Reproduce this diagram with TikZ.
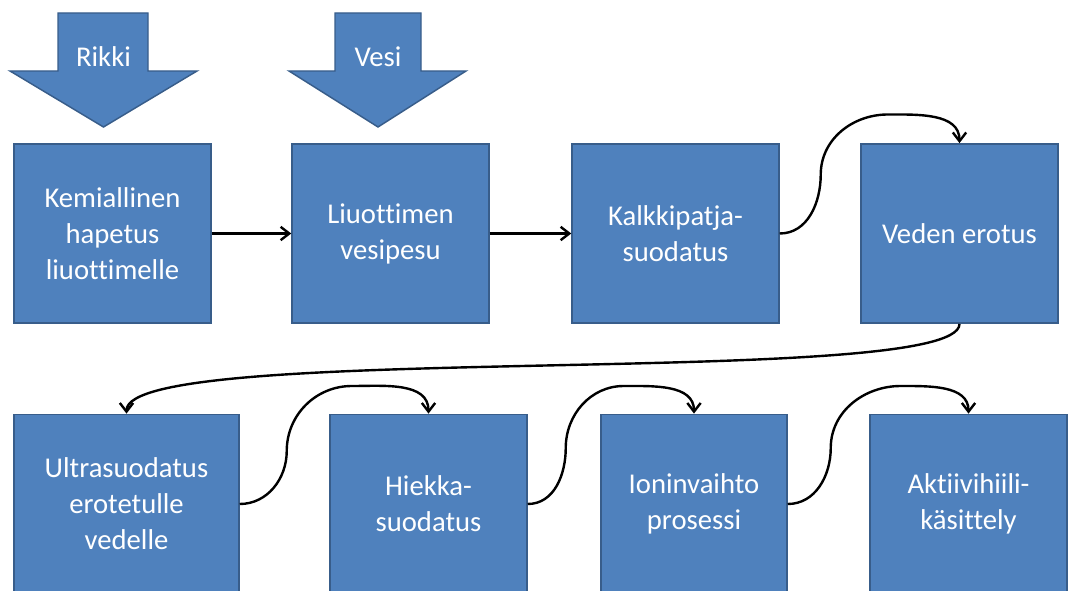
\documentclass[tikz,border=0pt]{standalone}
\usepackage{fontspec}
\setmainfont{Carlito}[Ligatures=CommonOff]
\usetikzlibrary{arrows.meta}
\definecolor{boxfill}{HTML}{4F81BD}
\definecolor{boxline}{HTML}{385D8A}

\begin{document}
\begin{tikzpicture}[x=0.75pt, y=0.75pt,
    stage/.style={draw=boxline, line width=1.1pt, fill=boxfill, text=white,
        align=center, minimum height=134.5pt, inner sep=2pt,
        font=\fontsize{21.5}{27}\selectfont},
    input/.style={draw=boxline, line width=1.1pt, fill=boxfill},
    conn/.style={-{Straight Barb[length=6.5pt,width=10pt]}, line width=1.8pt, black}]
    \useasboundingbox (0,0) rectangle (1069,590);
    % Syotot
    \draw[input] (58,577) -- (148,577) -- (148,519) -- (197,519) -- (103.5,463)
        -- (10,519) -- (58,519) -- cycle;
    \node[text=white, font=\fontsize{21.5}{27}\selectfont] (rikki) at (103.5,533) {Rikki};
    \draw[input] (335,577) -- (421,577) -- (421,519) -- (466,519) -- (378,463)
        -- (289,519) -- (335,519) -- cycle;
    \node[text=white, font=\fontsize{21.5}{27}\selectfont] (vesi) at (378,533) {Vesi};
    % Ylarivi
    \node[stage, minimum width=147.75pt] (kemia) at (112.5,356.5) {Kemiallinen\\hapetus\\liuottimelle};
    \node[stage, minimum width=147.75pt] (pesu) at (390.5,356.5) {Liuottimen\\vesipesu};
    \node[stage, minimum width=155.25pt] (kalkki) at (675.5,356.5) {Kalkkipatja-\\suodatus};
    \node[stage, minimum width=147.75pt] (erotus) at (959.5,356.5) {Veden erotus};
    % Alarivi
    \node[stage, minimum width=168.75pt] (ultra) at (126.5,86) {Ultrasuodatus\\erotetulle\\vedelle};
    \node[stage, minimum width=147.75pt] (hiekka) at (428.5,86) {Hiekka-\\suodatus};
    \node[stage, minimum width=139.5pt] (ioni) at (694,86) {Ioninvaihto\\prosessi};
    \node[stage, minimum width=147.75pt] (aktiivi) at (968.5,86) {Aktiivihiili-\\käsittely};
    % Yhdysviivat
    \draw[conn] (kemia) -- (pesu);
    \draw[conn] (pesu) -- (kalkki);
    \draw[conn] (kalkki.east) to[out=0,in=-90] ++(41,59) to[out=90,in=180] ++(67,60)
        to[out=0,in=90] (erotus.north);
    \draw[conn] (erotus.south) .. controls (959.5,200) and (126.5,250) .. (ultra.north);
    \draw[conn] (ultra.east) to[out=0,in=-90] ++(47,53) to[out=90,in=180] ++(65,65)
        to[out=0,in=90] (hiekka.north);
    \draw[conn] (hiekka.east) to[out=0,in=-90] ++(38,56) to[out=90,in=180] ++(58,62)
        to[out=0,in=90] (ioni.north);
    \draw[conn] (ioni.east) to[out=0,in=-90] ++(43,56) to[out=90,in=180] ++(70,62)
        to[out=0,in=90] (aktiivi.north);
\end{tikzpicture}
\end{document}
